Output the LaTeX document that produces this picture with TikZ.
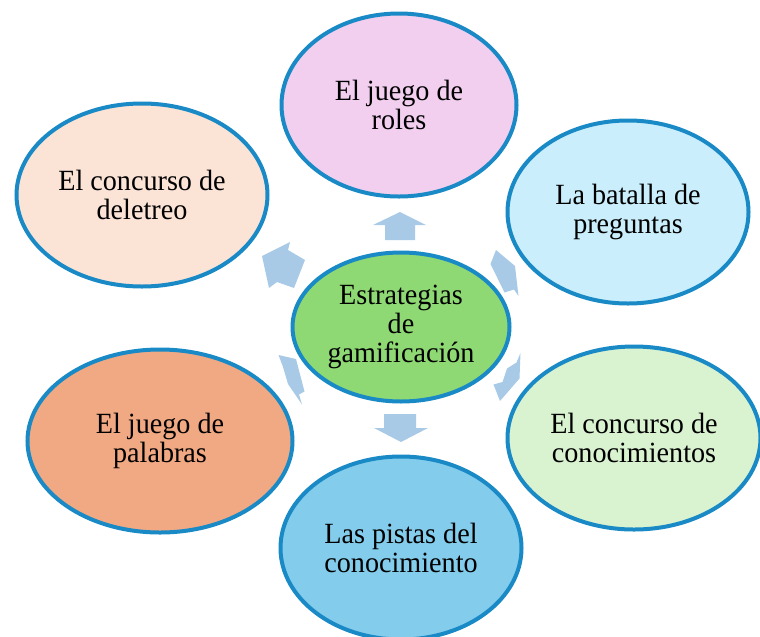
\documentclass[tikz,border=0pt]{standalone}
\usepackage{fontspec}
\setmainfont{Liberation Serif}[FakeStretch=0.96]
\usetikzlibrary{shapes.geometric}
\definecolor{ringblue}{HTML}{1A8AC6}
\definecolor{arrowblue}{HTML}{A8CAE6}
\definecolor{pinkfill}{HTML}{F2CEEF}
\definecolor{peachfill}{HTML}{FBE3D6}
\definecolor{skyfill}{HTML}{CAEEFB}
\definecolor{greenfill}{HTML}{8ED973}
\definecolor{salmonfill}{HTML}{F1A983}
\definecolor{mintfill}{HTML}{D9F2D0}
\definecolor{bluefill}{HTML}{83CCEB}
\tikzset{
  bubble/.style={ellipse, draw=ringblue, line width=3pt, inner sep=0pt,
    align=center, text=black, font=\fontsize{22}{21.5}\selectfont},
  blockarrow/.style={fill=arrowblue, draw=none}
}
\begin{document}
\begin{tikzpicture}[x=0.75pt,y=-0.75pt]
\useasboundingbox (0,0) rectangle (760,636);
% block arrows (drawn first, partly hidden by the ellipses)
\fill[blockarrow] (385,240) -- (385,225) -- (373,225) -- (400,212) -- (426,225) -- (415,225) -- (415,240) -- cycle;
\fill[blockarrow] (384,414) -- (416,414) -- (416,428) -- (428,428) -- (401,442) -- (374,428) -- (384,428) -- cycle;
\fill[blockarrow] (262,256) -- (290,242) -- (288,250) -- (305,260) -- (294,288) -- (277,282) -- (269,288) -- cycle;
\fill[blockarrow] (496,250) -- (515,266) -- (518.5,296) -- (514,289.5) -- (504.5,292.5) -- (490.5,264) -- cycle;
\fill[blockarrow] (278.5,355) -- (296,359) -- (304.5,391.5) -- (299,394.5) -- (302,404.5) -- (288,384) -- (283,367) -- cycle;
\fill[blockarrow] (520.5,353) -- (519.5,378.5) -- (500,401) -- (493.5,384.5) -- (502.5,382) -- (507,368.5) -- (516.5,362.5) -- cycle;
% ellipses
\node[bubble, fill=pinkfill,   minimum width=176.25pt, minimum height=137.25pt] (roles)   at (399,105) {El juego de\\roles};
\node[bubble, fill=peachfill,  minimum width=188.25pt, minimum height=137.25pt] (deletreo) at (142,195) {El concurso de\\deletreo};
\node[bubble, fill=skyfill,    minimum width=180.75pt, minimum height=137.25pt] (batalla) at (628,212) {La batalla de\\preguntas};
\node[bubble, fill=greenfill,  minimum width=162.75pt, minimum height=111.75pt] (centro)  at (401,327) {Estrategias\\de\\gamificación};
\node[bubble, fill=salmonfill, minimum width=198.75pt, minimum height=137.25pt] (palabras) at (160,441) {El juego de\\palabras};
\node[bubble, fill=mintfill,   minimum width=189.75pt, minimum height=137.25pt] (conoc)   at (634,438) {El concurso de\\conocimientos};
\node[bubble, fill=bluefill,   minimum width=180.75pt, minimum height=137.25pt] (pistas)  at (401,548) {Las pistas del\\conocimiento};
\end{tikzpicture}
\end{document}
